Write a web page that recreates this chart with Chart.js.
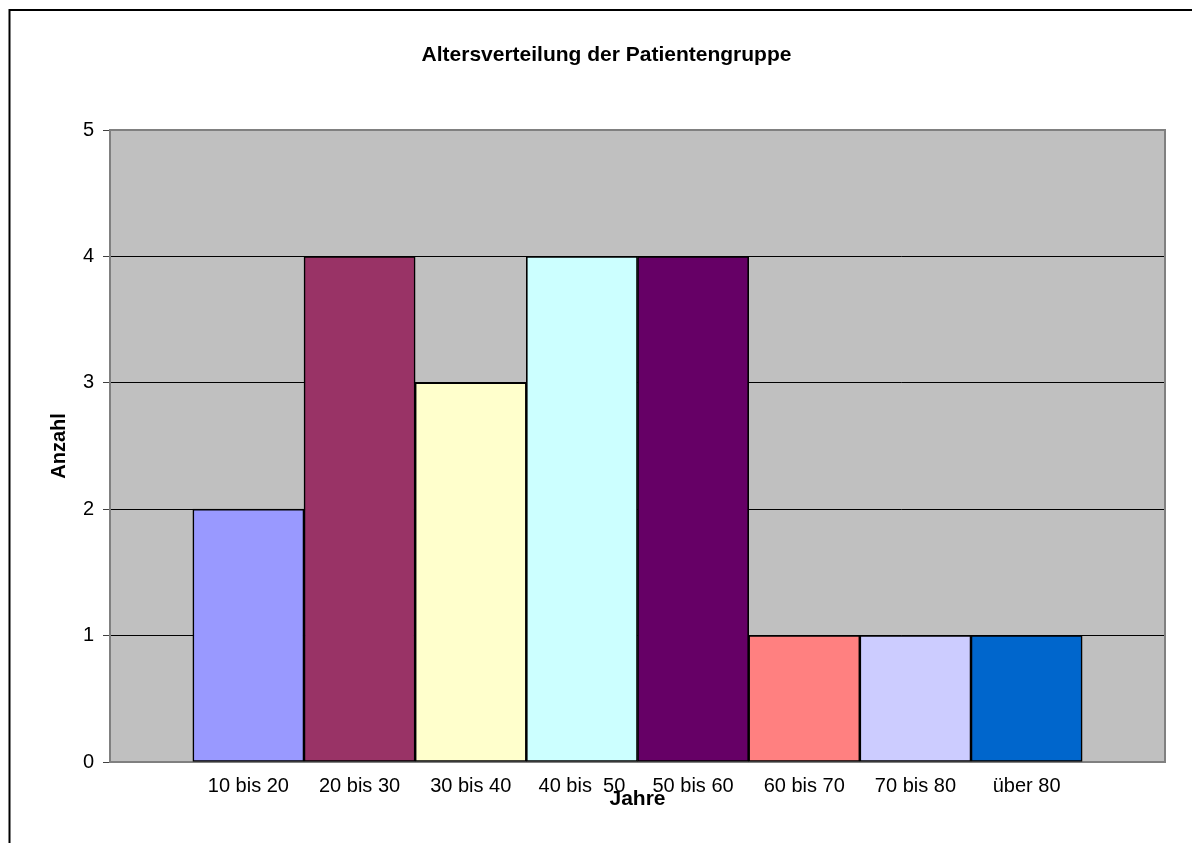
<!DOCTYPE html>
<html>
<head>
<meta charset="utf-8">
<title>Altersverteilung der Patientengruppe</title>
<script src="https://cdn.jsdelivr.net/npm/chart.js@4.4.1/dist/chart.umd.min.js"></script>
<style>
    html, body { margin: 0; padding: 0; background: #fff; }
    #wrap { width: 1192px; height: 843px; position: relative; }
</style>
</head>
<body>
<div id="wrap"><canvas id="ageChart"></canvas></div>
<script>
// data
const categories = ['10 bis 20', '20 bis 30', '30 bis 40', '40 bis  50', '50 bis 60', '60 bis 70', '70 bis 80', 'über 80'];
const counts = [2, 4, 3, 4, 4, 1, 1, 1];
const barColors = ['#9999FF', '#993366', '#FFFFCC', '#CCFFFF', '#660066', '#FF8080', '#CCCCFF', '#0066CC'];
const yTicks = [0, 1, 2, 3, 4, 5];

Chart.defaults.font.family = "'Liberation Sans', Arial, sans-serif";
Chart.defaults.color = '#000';

// grey plot area, its frame and the outer chart border (Excel look)
const excelFrame = {
    id: 'excelFrame',
    beforeDraw(chart) {
        const { ctx, chartArea: a } = chart;
        ctx.save();
        ctx.fillStyle = '#C0C0C0';
        ctx.fillRect(a.left, a.top, a.right - a.left, a.bottom - a.top);
        ctx.strokeStyle = '#000';
        ctx.lineWidth = 2;
        ctx.beginPath();
        ctx.moveTo(9.5, chart.height);
        ctx.lineTo(9.5, 10);
        ctx.lineTo(chart.width, 10);
        ctx.stroke();
        ctx.restore();
    },
    beforeDatasetsDraw(chart) {
        const { ctx, chartArea: a } = chart;
        ctx.save();
        ctx.strokeStyle = '#808080';
        ctx.lineWidth = 2;
        ctx.strokeRect(a.left, a.top, a.right - a.left, a.bottom - a.top);
        ctx.restore();
    }
};

const ctx = document.getElementById('ageChart').getContext('2d');
new Chart(ctx, {
    type: 'bar',
    data: {
        datasets: [{
            label: 'Anzahl',
            data: counts.map((v, i) => ({ x: i, y: v })),
            backgroundColor: barColors,
            borderColor: '#000',
            borderWidth: 1.6,
            borderSkipped: false,
            barPercentage: 1,
            categoryPercentage: 1
        }]
    },
    options: {
        responsive: true,
        maintainAspectRatio: false,
        animation: false,
        layout: { padding: { left: 48, right: 27, top: 0, bottom: 0 } },
        plugins: {
            legend: { display: false },
            tooltip: { enabled: false },
            title: {
                display: true,
                text: 'Altersverteilung der Patientengruppe',
                font: { size: 21, weight: 'bold' },
                color: '#000',
                padding: { top: 42.5, bottom: 62.3 }
            }
        },
        scales: {
            x: {
                type: 'linear',
                offset: false,
                min: -1.245,
                max: 8.245,
                afterBuildTicks: (scale) => {
                    scale.ticks = categories.map((c, i) => ({ value: i }));
                },
                afterFit: (scale) => { scale.height = 81; },
                grid: { display: false, drawTicks: false, offset: false },
                border: { display: false },
                ticks: {
                    autoSkip: false,
                    maxRotation: 0,
                    padding: 12.5,
                    font: { size: 20 },
                    callback: (value) => categories[value]
                },
                title: {
                    display: true,
                    text: 'Jahre',
                    font: { size: 21, weight: 'bold' },
                    padding: { top: 0, bottom: 31 }
                }
            },
            y: {
                min: 0,
                max: 5,
                afterBuildTicks: (scale) => {
                    scale.ticks = yTicks.map(v => ({ value: v }));
                },
                afterFit: (scale) => { scale.width = 62; },
                border: { display: false },
                grid: {
                    color: (c) => (c.tick && c.tick.value > 0 && c.tick.value < 5) ? '#000' : 'rgba(0,0,0,0)',
                    lineWidth: 1,
                    tickLength: 7,
                    tickColor: '#404040'
                },
                ticks: {
                    padding: 9,
                    font: { size: 20 }
                },
                title: {
                    display: true,
                    text: 'Anzahl',
                    font: { size: 20, weight: 'bold', lineHeight: 1 },
                    padding: { top: 1, bottom: 0 }
                }
            }
        }
    },
    plugins: [excelFrame]
});
</script>
</body>
</html>
